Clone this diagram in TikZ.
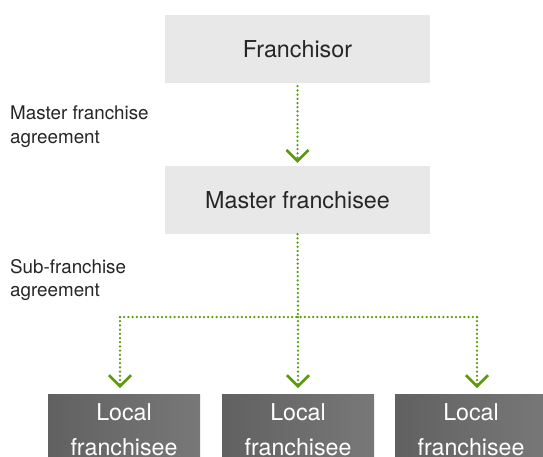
\documentclass[tikz,border=0pt]{standalone}
\usepackage{fontspec}
\setmainfont{TeX Gyre Heros}
\usetikzlibrary{arrows.meta}
\definecolor{flowgreen}{HTML}{5A9A0C}
\definecolor{lightbox}{HTML}{E8E8E8}
\tikzset{
  topbox/.style={fill=lightbox, minimum width=265pt, minimum height=68pt,
    inner sep=0pt, font=\fontsize{23.3}{27}\selectfont, text=black!85},
  localbox/.style={left color=black!62, right color=black!53, anchor=north,
    minimum width=152pt, minimum height=72pt, inner sep=0pt, align=center,
    text=white, font=\fontsize{23.2}{35}\selectfont},
  lbl/.style={anchor=north west, align=left, inner sep=0pt,
    font=\fontsize{18.8}{23.5}\selectfont, text=black!85},
  flow/.style={flowgreen, line width=2.5pt, dash pattern=on 0pt off 4.2pt,
    line cap=round},
  chevron/.style={-{Straight Barb[length=11pt, width=22pt, line width=2.6pt]}}
}
\begin{document}
\begin{tikzpicture}[x=1pt, y=-1pt]
  \useasboundingbox (0,0) rectangle (543,456);
  \clip (0,0) rectangle (543,456);
  \fill[white] (0,0) rectangle (543,456);
  % boxes
  \node[topbox] (franchisor) at (297.5,49) {Franchisor};
  \node[topbox] (master) at (297.5,200) {Master franchisee};
  \node[localbox] (local1) at (124,394) {Local\\franchisee};
  \node[localbox] (local2) at (298,394) {Local\\franchisee};
  \node[localbox] (local3) at (471,394) {Local\\franchisee};
  % labels
  \node[lbl] (mfa) at (10,106) {Master franchise\\agreement};
  \node[lbl] (sfa) at (10,259) {Sub-franchise\\agreement};
  % connectors
  \coordinate (split) at (298,317);
  \coordinate (left) at (120,317);
  \coordinate (right) at (477,317);
  \draw[flow, chevron, shorten <=3pt, shorten >=3pt] (franchisor) -- (master);
  \draw[flow] (master.south) -- (split);
  \draw[flow] (left) -- (right);
  \draw[flow, chevron, shorten >=6pt] (left) -- (left |- local1.north);
  \draw[flow, chevron, shorten >=6pt] (split) -- (local2.north);
  \draw[flow, chevron, shorten >=6pt] (right) -- (right |- local3.north);
\end{tikzpicture}
\end{document}
